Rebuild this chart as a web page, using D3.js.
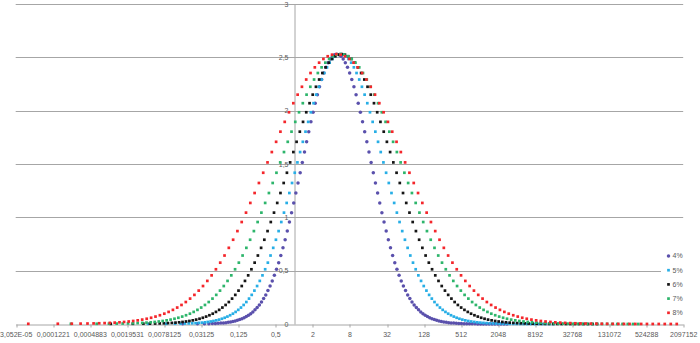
<!DOCTYPE html>
<html>
<head>
<meta charset="utf-8">
<script src="https://cdn.jsdelivr.net/npm/d3@7"></script>
<style>
  html, body { margin: 0; padding: 0; background: #ffffff; }
  svg { display: block; font-family: "Liberation Sans", Arial, sans-serif; }
</style>
</head>
<body>
<svg id="chart" width="700" height="343"></svg>
<script>
// Series names and marker colours
const seriesNames = ["4%", "5%", "6%", "7%", "8%"];
const seriesColors = ["#5a50ac", "#27aee6", "#151515", "#2db56b", "#f4262b"];

// Shared heights of the points (same row index across the five series)
const density = [
  0.0017, 0.0022, 0.0028, 0.0035, 0.0044, 0.0055, 0.0068, 0.0084, 0.0104, 0.0128,
  0.0157, 0.0192, 0.0234, 0.0283, 0.0342, 0.0411, 0.0491, 0.0585, 0.0695, 0.0821,
  0.0967, 0.1134, 0.1325, 0.1541, 0.1785, 0.206, 0.238, 0.273, 0.313, 0.356,
  0.404, 0.456, 0.513, 0.575, 0.642, 0.714, 0.790, 0.871, 0.956, 1.044,
  1.135, 1.228, 1.322, 1.418, 1.515, 1.612, 1.708, 1.803, 1.895, 1.985,
  2.070, 2.150, 2.224, 2.292, 2.353, 2.406, 2.450, 2.485, 2.510, 2.525,
  2.530, 2.525, 2.510, 2.485, 2.450, 2.406, 2.353, 2.292, 2.224, 2.150,
  2.070, 1.985, 1.895, 1.803, 1.708, 1.612, 1.515, 1.418, 1.322, 1.228,
  1.135, 1.044, 0.956, 0.871, 0.790, 0.714, 0.642, 0.575, 0.513, 0.456,
  0.404, 0.356, 0.313, 0.273, 0.238, 0.206, 0.1785, 0.1541, 0.1325, 0.1134,
  0.0967, 0.0821, 0.0695, 0.0585, 0.0491, 0.0411, 0.0342, 0.0283, 0.0234, 0.0192,
  0.0157, 0.0128, 0.0104, 0.0084, 0.0068, 0.0055, 0.0044, 0.0035, 0.0028, 0.0022,
  0.0017, 0.0013, 0.0010, 0.0008, 0.0006, 0.0005, 0.0004, 0.0003, 0.0002, 0.0002,
  0.0001, 0.0001, 0.0001
];

// x values of each series, one per row of `density`
const x4 = [
  0.01570, 0.02726, 0.03541, 0.04176, 0.04750, 0.05322, 0.05910, 0.06539, 0.07204, 0.07896,
  0.08640, 0.09415, 0.1026, 0.1116, 0.1214, 0.1321, 0.1436, 0.1560, 0.1694, 0.1838,
  0.1996, 0.2163, 0.2344, 0.2540, 0.2753, 0.2984, 0.3234, 0.3504, 0.3797, 0.4116,
  0.4460, 0.4833, 0.5239, 0.5677, 0.6151, 0.6668, 0.7226, 0.7830, 0.8481, 0.9191,
  0.9959, 1.079, 1.170, 1.268, 1.374, 1.489, 1.613, 1.749, 1.895, 2.054,
  2.225, 2.412, 2.614, 2.832, 3.070, 3.327, 3.605, 3.907, 4.235, 4.588,
  4.971, 5.390, 5.840, 6.330, 6.860, 7.434, 8.055, 8.731, 9.462, 10.25,
  11.11, 12.04, 13.05, 14.14, 15.33, 16.61, 18.00, 19.51, 21.14, 22.92,
  24.83, 26.91, 29.17, 31.59, 34.23, 37.09, 40.20, 43.56, 47.21, 51.17,
  55.45, 60.09, 65.13, 70.57, 76.49, 82.90, 89.83, 97.55, 105.9, 115.0,
  124.8, 135.8, 147.7, 160.7, 174.7, 190.8, 208.4, 227.4, 248.3, 272.1,
  298.2, 327.0, 358.3, 394.1, 433.6, 476.7, 524.6, 580.6, 641.9, 710.2,
  785.4, 872.0, 968.2, 1075, 1194, 1331, 1483, 1653, 1842, 2061,
  2306, 2580, 2884
];
const x5 = [
  0.004275, 0.008515, 0.01181, 0.01451, 0.01704, 0.01966, 0.02241, 0.02542, 0.02870, 0.03218,
  0.03600, 0.04008, 0.04466, 0.04959, 0.05510, 0.06122, 0.06798, 0.07538, 0.08351, 0.09254,
  0.1026, 0.1135, 0.1254, 0.1386, 0.1533, 0.1695, 0.1874, 0.2072, 0.2291, 0.2533,
  0.2801, 0.3097, 0.3425, 0.3787, 0.4187, 0.4630, 0.5120, 0.5662, 0.6260, 0.6922,
  0.7653, 0.8463, 0.9357, 1.035, 1.144, 1.265, 1.399, 1.547, 1.710, 1.891,
  2.091, 2.312, 2.556, 2.825, 3.123, 3.454, 3.819, 4.223, 4.669, 5.163,
  5.709, 6.312, 6.979, 7.717, 8.534, 9.436, 10.43, 11.54, 12.75, 14.10,
  15.59, 17.23, 19.05, 21.07, 23.30, 25.76, 28.49, 31.50, 34.83, 38.51,
  42.58, 47.08, 52.06, 57.56, 63.65, 70.39, 77.83, 86.05, 95.16, 105.2,
  116.3, 128.6, 142.2, 157.3, 173.9, 192.3, 212.6, 235.6, 261.0, 289.5,
  320.7, 356.4, 395.7, 439.7, 488.5, 545.0, 608.4, 678.9, 758.1, 849.9,
  952.7, 1068, 1198, 1349, 1520, 1713, 1930, 2189, 2483, 2817,
  3196, 3644, 4150, 4732, 5394, 6174, 7073, 8102, 9276, 10669,
  12281, 14127, 16250
];
const x6 = [
  0.001064, 0.002433, 0.003605, 0.004614, 0.005598, 0.006644, 0.007770, 0.009044, 0.01046, 0.01200,
  0.01373, 0.01561, 0.01778, 0.02017, 0.02288, 0.02596, 0.02945, 0.03331, 0.03769, 0.04263,
  0.04823, 0.05441, 0.06139, 0.06921, 0.07809, 0.08809, 0.09939, 0.1121, 0.1265, 0.1427,
  0.1610, 0.1816, 0.2049, 0.2312, 0.2608, 0.2943, 0.3320, 0.3745, 0.4225, 0.4767,
  0.5378, 0.6068, 0.6845, 0.7723, 0.8712, 0.9830, 1.109, 1.251, 1.411, 1.592,
  1.801, 2.027, 2.286, 2.578, 2.908, 3.281, 3.702, 4.176, 4.712, 5.315,
  5.997, 6.765, 7.633, 8.610, 9.714, 10.96, 12.37, 13.95, 15.73, 17.74,
  20.02, 22.58, 25.48, 28.82, 32.43, 36.58, 41.28, 46.56, 52.53, 59.27,
  66.87, 75.44, 85.10, 96.01, 108.3, 122.2, 137.9, 155.5, 175.5, 198.0,
  223.3, 252.0, 284.3, 320.7, 361.8, 408.2, 460.5, 520.6, 589.0, 666.8,
  753.9, 855.8, 970.3, 1101, 1249, 1424, 1626, 1855, 2116, 2427,
  2784, 3196, 3666, 4229, 4878, 5631, 6496, 7560, 8792, 10228,
  11904, 13923, 16295, 19060, 22305, 26236, 30876, 36333, 42766, 50577,
  59857, 70838, 83768
];
const x7 = [
  2.404e-4, 6.307e-4, 9.964e-4, 0.001330, 0.001666, 0.002033, 0.002443, 0.002916, 0.003456, 0.004055,
  0.004747, 0.005517, 0.006417, 0.007428, 0.008609, 0.009979, 0.01155, 0.01335, 0.01541, 0.01779,
  0.02056, 0.02367, 0.02724, 0.03134, 0.03608, 0.04153, 0.04780, 0.05502, 0.06333, 0.07291,
  0.08392, 0.09661, 0.1112, 0.1280, 0.1473, 0.1696, 0.1952, 0.2247, 0.2585, 0.2975,
  0.3425, 0.3942, 0.4538, 0.5224, 0.6013, 0.6922, 0.7968, 0.9172, 1.056, 1.215,
  1.399, 1.610, 1.853, 2.132, 2.454, 2.825, 3.251, 3.743, 4.308, 4.959,
  5.709, 6.571, 7.564, 8.707, 10.02, 11.54, 13.28, 15.29, 17.58, 20.24,
  23.30, 26.82, 30.87, 35.53, 40.90, 47.08, 54.20, 62.39, 71.81, 82.67,
  95.16, 109.5, 126.1, 145.0, 166.9, 192.2, 221.2, 254.6, 293.1, 337.3,
  388.3, 447.0, 514.5, 592.3, 681.8, 784.8, 903.4, 1043, 1204, 1391,
  1607, 1861, 2156, 2499, 2894, 3376, 3938, 4590, 5357, 6287,
  7378, 8661, 10164, 12011, 14195, 16766, 19813, 23644, 28215, 33669,
  40147, 48248, 57937, 69573, 83591, 101017, 122133, 147692, 178559, 217134,
  264320, 321625, 391381
];
const x8 = [
  4.887e-5, 1.473e-4, 2.484e-4, 3.452e-4, 4.468e-4, 5.613e-4, 6.920e-4, 8.473e-4, 0.001029, 0.001235,
  0.001478, 0.001755, 0.002086, 0.002467, 0.002920, 0.003456, 0.004087, 0.004819, 0.005680, 0.006695,
  0.007894, 0.009272, 0.01089, 0.01278, 0.01501, 0.01763, 0.02070, 0.02432, 0.02856, 0.03354,
  0.03940, 0.04627, 0.05433, 0.06383, 0.07496, 0.08803, 0.1034, 0.1214, 0.1425, 0.1674,
  0.1966, 0.2309, 0.2712, 0.3184, 0.3740, 0.4393, 0.5159, 0.6059, 0.7116, 0.8357,
  0.9816, 1.153, 1.354, 1.589, 1.866, 2.192, 2.574, 3.023, 3.551, 4.170,
  4.898, 5.753, 6.756, 7.935, 9.32, 10.94, 12.85, 15.10, 17.72, 20.81,
  24.44, 28.70, 33.71, 39.59, 46.50, 54.61, 64.13, 75.33, 88.47, 103.9,
  122.0, 143.3, 168.3, 197.6, 232.0, 272.5, 320.1, 375.9, 441.5, 518.5,
  608.9, 715.2, 839.9, 986.4, 1159, 1361, 1598, 1884, 2220, 2618,
  3085, 3651, 4318, 5110, 6048, 7207, 8595, 10242, 12213, 14665,
  17610, 21163, 25412, 30746, 37205, 45013, 54470, 66690, 81592, 99824,
  122133, 150563, 185624, 228852, 282355, 350539, 435474, 540960, 672032, 840696,
  1052246, 1317326, 1647725
];

// Axis ticks
const xTickValues = [3.0517578125e-5, 1.220703125e-4, 4.8828125e-4, 0.001953125, 0.0078125,
  0.03125, 0.125, 0.5, 2, 8, 32, 128, 512, 2048, 8192, 32768, 131072, 524288, 2097152];
const xTickLabels = ["3,052E-05", "0,0001221", "0,0004883", "0,0019531", "0,0078125",
  "0,03125", "0,125", "0,5", "2", "8", "32", "128", "512", "2048", "8192", "32768",
  "131072", "524288", "2097152"];
const yTickValues = [0, 0.5, 1, 1.5, 2, 2.5, 3];
const yTickLabels = ["0", "0,5", "1", "1,5", "2", "2,5", "3"];

const seriesX = [x4, x5, x6, x7, x8];
const series = seriesNames.map((name, s) => ({
  name,
  color: seriesColors[s],
  round: s === 0,
  points: seriesX[s].map((xv, i) => ({ x: xv, y: density[i] }))
}));

// Layout
const plot = { left: 15.7, right: 683.2, top: 4, bottom: 324 };
const gridColor = "#a6a6a6";
const textColor = "#595959";
const crisp = v => Math.round(v) + 0.5;

const svg = d3.select("#chart");

const x = d3.scaleLog().base(2)
  .domain([xTickValues[0], xTickValues[xTickValues.length - 1]])
  .range([plot.left, plot.right]);
const y = d3.scaleLinear().domain([0, 3]).range([plot.bottom, plot.top]);

// Horizontal gridlines
svg.append("g").selectAll("line")
  .data(yTickValues.filter(v => v > 0))
  .join("line")
  .attr("x1", plot.left).attr("x2", plot.right)
  .attr("y1", d => crisp(y(d))).attr("y2", d => crisp(y(d)))
  .attr("stroke", gridColor).attr("stroke-width", 1);

// Horizontal axis along y = 0
const xAxis = svg.append("g")
  .attr("transform", `translate(0,${crisp(y(0))})`)
  .call(d3.axisBottom(x)
    .tickValues(xTickValues)
    .tickFormat((d, i) => xTickLabels[i])
    .tickSizeInner(3).tickSizeOuter(0).tickPadding(5));
xAxis.select(".domain").attr("stroke", gridColor);
xAxis.selectAll(".tick line").attr("stroke", gridColor)
  .attr("transform", d => `translate(${crisp(x(d)) - x(d)},0)`);
xAxis.selectAll(".tick text").attr("fill", textColor).attr("font-size", 7);

// Vertical axis crossing at x = 1
const yAxis = svg.append("g")
  .attr("transform", `translate(${crisp(x(1))},0)`)
  .call(d3.axisLeft(y)
    .tickValues(yTickValues)
    .tickFormat((d, i) => yTickLabels[i])
    .tickSize(0).tickPadding(6));
yAxis.select(".domain").attr("stroke", gridColor);
yAxis.selectAll(".tick text").attr("fill", textColor).attr("font-size", 7);

// Points, one layer per series (8% drawn last)
const marker = 2.7;
series.forEach(s => {
  const g = svg.append("g");
  if (s.round) {
    g.selectAll("circle")
      .data(s.points)
      .join("circle")
      .attr("cx", d => x(d.x))
      .attr("cy", d => y(d.y))
      .attr("r", 1.75)
      .attr("fill", s.color);
  } else {
    g.selectAll("rect")
      .data(s.points)
      .join("rect")
      .attr("x", d => x(d.x) - marker / 2)
      .attr("y", d => y(d.y) - marker / 2)
      .attr("width", marker).attr("height", marker)
      .attr("fill", s.color);
  }
});

// Legend
const legend = svg.append("g");
legend.append("rect")
  .attr("x", 661).attr("y", 247).attr("width", 39).attr("height", 74)
  .attr("fill", "#ffffff");
const items = legend.selectAll("g.item")
  .data(series)
  .join("g")
  .attr("class", "item")
  .attr("transform", (d, i) => `translate(668.5,${256 + i * 14.2})`);
items.each(function (d) {
  const g = d3.select(this);
  if (d.round) {
    g.append("circle").attr("r", 1.75).attr("fill", d.color);
  } else {
    g.append("rect")
      .attr("x", -marker / 2).attr("y", -marker / 2)
      .attr("width", marker).attr("height", marker)
      .attr("fill", d.color);
  }
});
items.append("text")
  .attr("x", 4).attr("dy", "0.35em")
  .attr("font-size", 7).attr("fill", textColor)
  .text(d => d.name);
</script>
</body>
</html>
